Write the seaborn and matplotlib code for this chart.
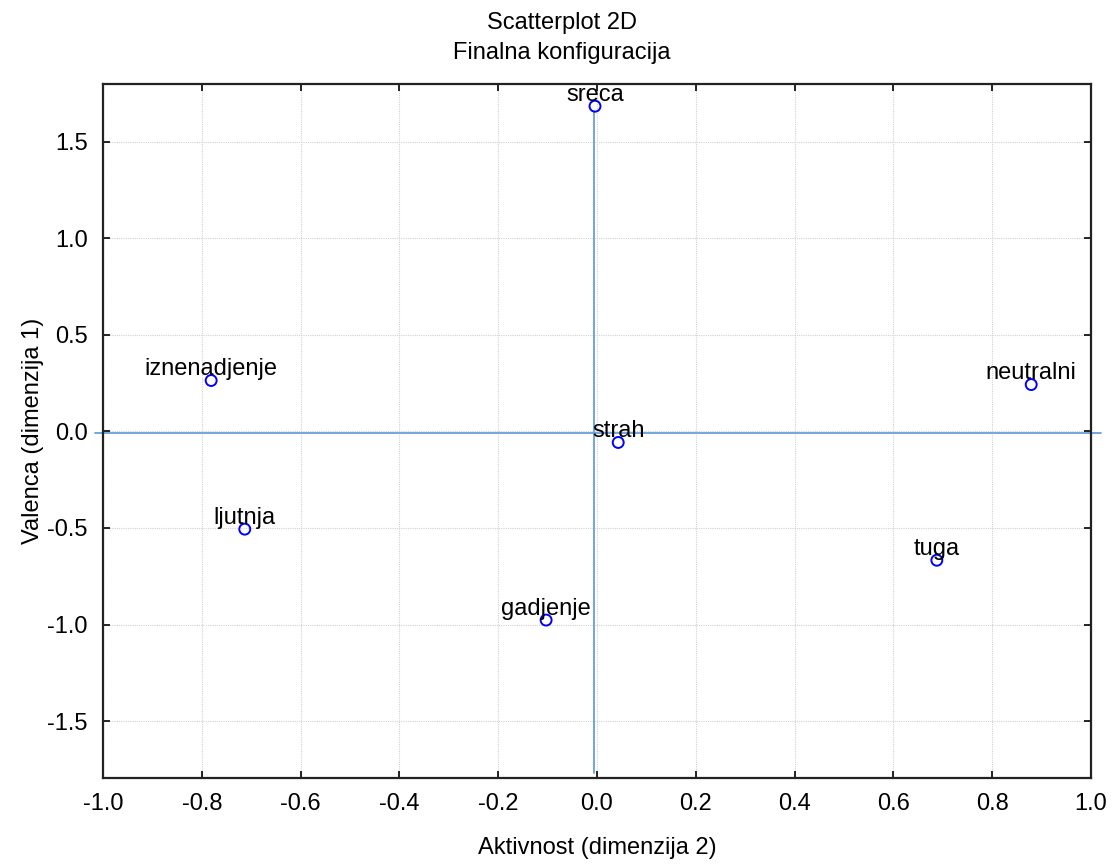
import matplotlib
matplotlib.use("Agg")
import matplotlib.pyplot as plt
import seaborn as sns
import pandas as pd

# final configuration (dimension 2 on x, dimension 1 on y)
labels = ["sreca", "iznenadjenje", "neutralni", "strah", "ljutnja", "tuga", "gadjenje"]
aktivnost = [-0.004, -0.781, 0.879, 0.043, -0.713, 0.688, -0.103]
valenca = [1.685, 0.264, 0.243, -0.057, -0.506, -0.667, -0.977]

df = pd.DataFrame({"label": labels, "x": aktivnost, "y": valenca})

sns.set_style("white")
plt.rcParams["font.family"] = ["Liberation Sans", "DejaVu Sans"]
plt.rcParams["text.color"] = "black"
plt.rcParams["axes.labelcolor"] = "black"
plt.rcParams["xtick.color"] = "black"
plt.rcParams["ytick.color"] = "black"

fig = plt.figure(figsize=(11.17, 8.65), dpi=100)
ax = fig.add_axes([0.0922, 0.1006, 0.8845, 0.8023])

line_color = "#6a9fd8"
# axis lines through the configuration
ax.plot([-1.016, 1.02], [-0.01, -0.01], color=line_color, lw=1.3, clip_on=False, zorder=2)
ax.plot([-0.006, -0.006], [1.66, -1.77], color=line_color, lw=1.3, zorder=2)

sns.scatterplot(data=df, x="x", y="y", ax=ax, s=62, facecolor="none",
                edgecolor="#0000ff", linewidth=1.4, zorder=3)

for _, r in df.iterrows():
    ax.annotate(r["label"], (r["x"], r["y"]), xytext=(0, 4), textcoords="offset points",
                ha="center", va="baseline", fontsize=17, color="black", zorder=4)

ax.set_xlim(-1.0, 1.0)
ax.set_ylim(-1.795, 1.8)
ax.set_xticks([-1.0, -0.8, -0.6, -0.4, -0.2, 0.0, 0.2, 0.4, 0.6, 0.8, 1.0])
ax.set_yticks([-1.5, -1.0, -0.5, 0.0, 0.5, 1.0, 1.5])
ax.xaxis.set_major_formatter(matplotlib.ticker.FormatStrFormatter("%.1f"))
ax.yaxis.set_major_formatter(matplotlib.ticker.FormatStrFormatter("%.1f"))
ax.grid(True, color="#d2d2d2", linestyle=(0, (1, 1)), linewidth=0.8)
ax.tick_params(direction="in", length=5, width=1.2, labelsize=17, pad=11,
               top=True, right=True, bottom=True, left=True)
for sp in ax.spines.values():
    sp.set_color("#222222")
    sp.set_linewidth(1.6)

ax.set_xlabel("Aktivnost (dimenzija 2)", fontsize=17, labelpad=16)
ax.set_ylabel("Valenca (dimenzija 1)", fontsize=17, labelpad=2)

fig.text(0.503, 0.966, "Scatterplot 2D", ha="center", va="baseline", fontsize=17)
fig.text(0.503, 0.932, "Finalna konfiguracija", ha="center", va="baseline", fontsize=17)

fig.savefig("out.png", dpi=100)
